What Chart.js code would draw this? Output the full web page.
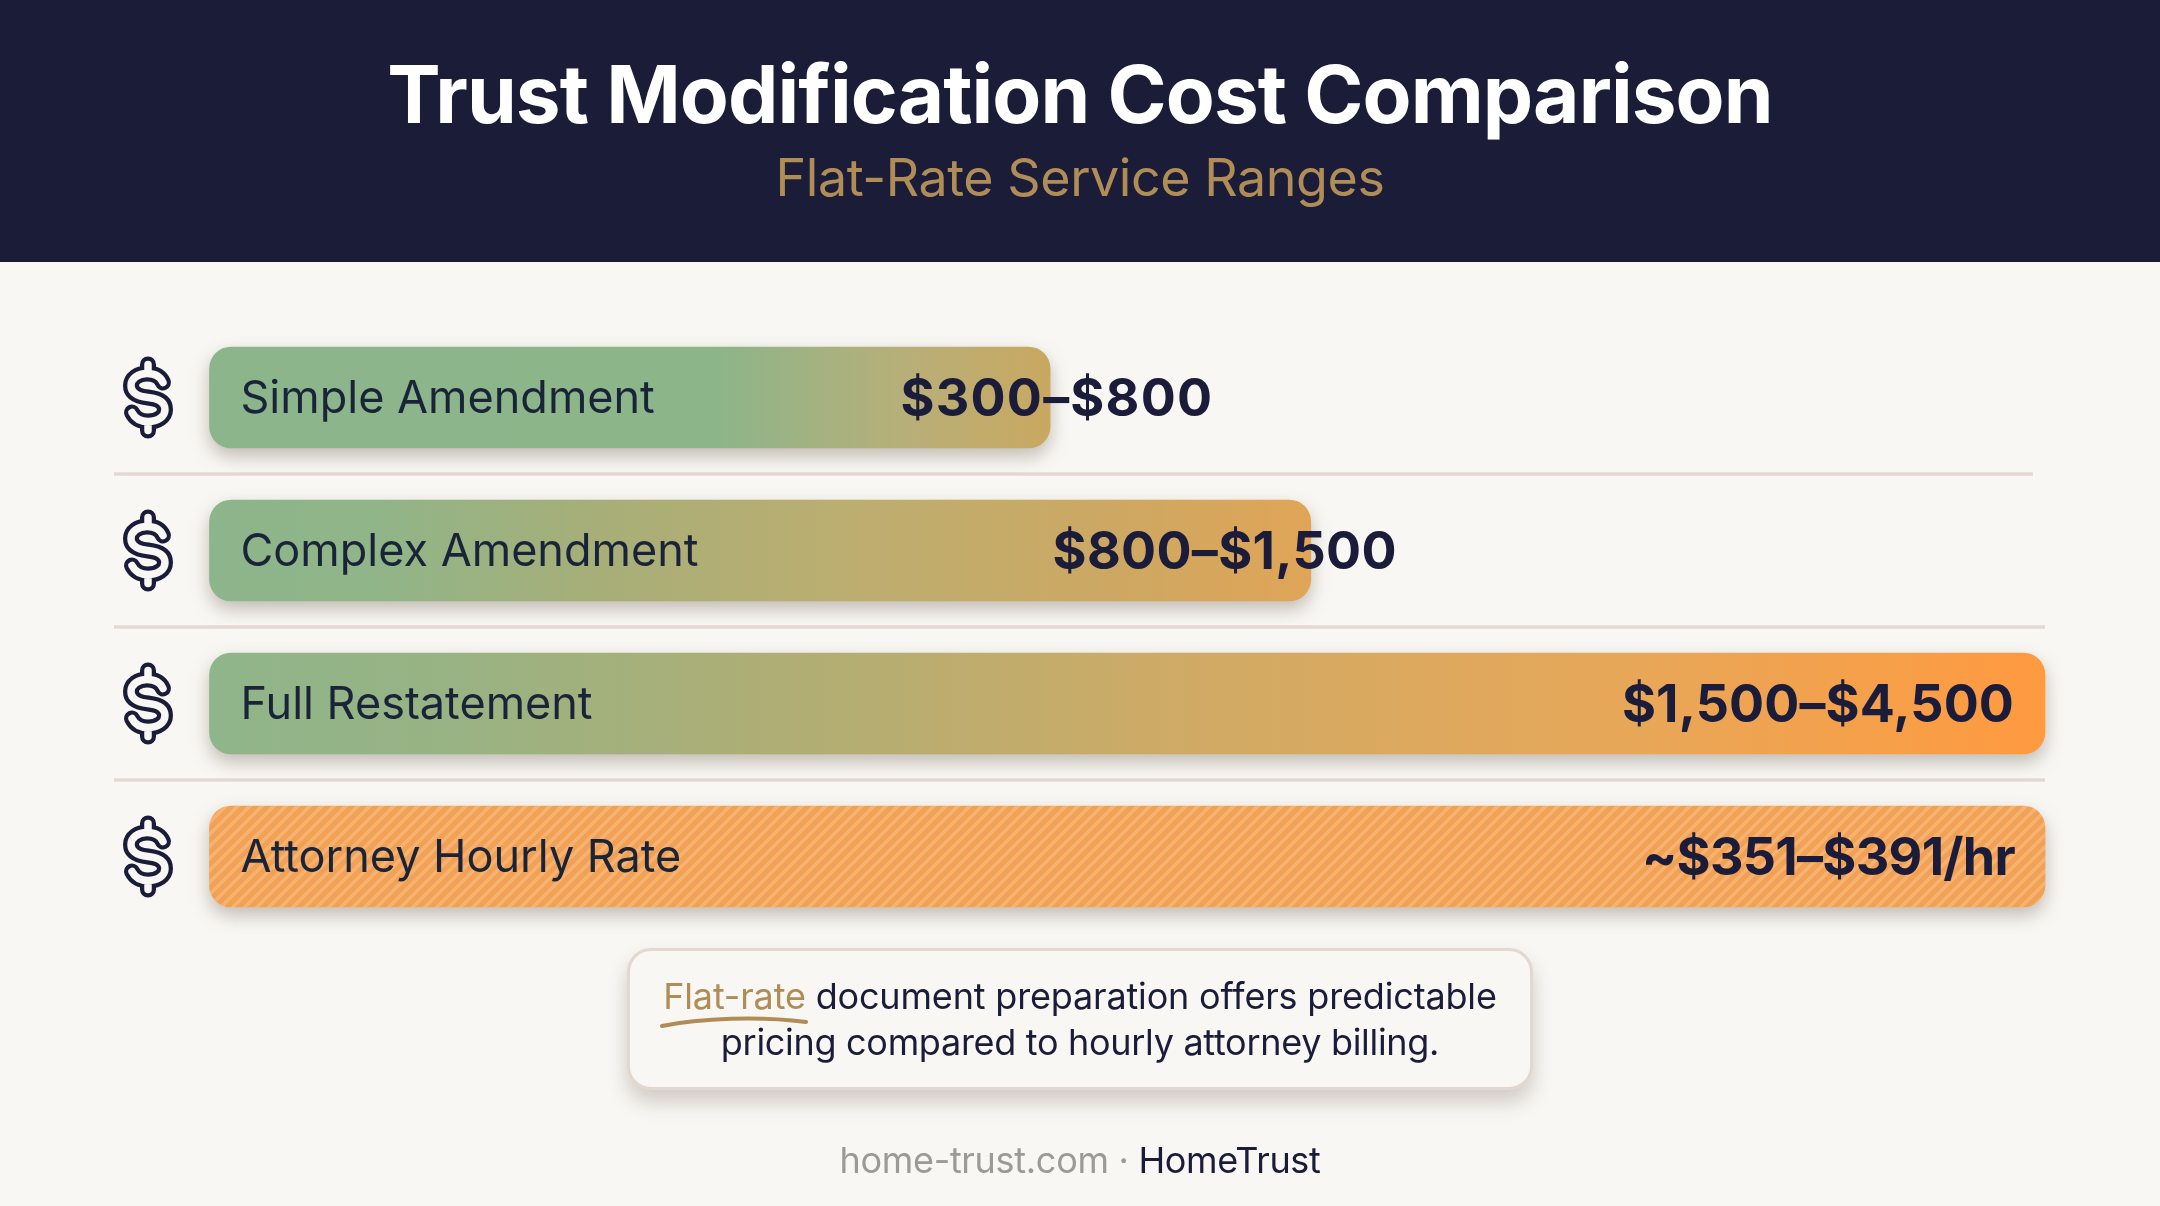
<!DOCTYPE html>
<html>
<head>
<meta charset="utf-8">
<title>Trust Modification Cost Comparison</title>
<script src="https://cdn.jsdelivr.net/npm/chart.js@4"></script>
<style>
html, body { margin: 0; padding: 0; background: #f8f7f3; }
body { position: relative; width: 2160px; height: 1206px; overflow: hidden; font-family: Inter, sans-serif; color: #1a1c3a; }
#header { position: absolute; left: 0; top: 0; width: 2160px; height: 262px; background: #1a1c38; }
#title, #subtitle, #line1, #line2, #footer { position: absolute; left: 0; width: 2160px; text-align: center; white-space: nowrap; }
#title { top: 45px; font-size: 80px; font-weight: 700; color: #fff; line-height: 97px; letter-spacing: -0.9px; }
#subtitle { top: 146px; font-size: 52px; font-weight: 400; color: #b08d57; line-height: 63px; letter-spacing: -0.45px; }
#cashCanvas { position: absolute; left: 0; top: 0; }
#callout { position: absolute; left: 627px; top: 948px; width: 900px; height: 136px; border: 3.5px solid #e2d8d0; border-radius: 24px; background: #f9f7f3; box-shadow: 0 12px 20px rgba(70, 50, 30, .22); }
#line1 { top: 973px; font-size: 36px; line-height: 46px; letter-spacing: -0.17px; }
#line2 { top: 1019px; font-size: 36px; line-height: 46px; letter-spacing: -0.3px; }
#footer { top: 1138px; font-size: 36px; line-height: 44px; color: #9a9a96; letter-spacing: -0.3px; }
#footer b { font-weight: 400; color: #1a1c3a; }
.gold { color: #b08d57; }
#swoosh { position: absolute; left: 660px; top: 1012px; }
</style>
</head>
<body>
<div id="header"></div>
<div id="title">Trust Modification Cost Comparison</div>
<div id="subtitle">Flat-Rate Service Ranges</div>
<canvas id="cashCanvas" width="2160" height="1206"></canvas>
<div id="callout"></div>
<div id="line1"><span class="gold">Flat-rate</span> document preparation offers predictable</div>
<div id="line2">pricing compared to hourly attorney billing.</div>
<svg id="swoosh" width="150" height="18"><path d="M2 14 C 40 6, 100 4, 146 10" fill="none" stroke="#b08d57" stroke-width="4" stroke-linecap="round"/></svg>
<div id="footer">home-trust.com · <b>HomeTrust</b></div>
<script>
const categories = ["Simple Amendment", "Complex Amendment", "Full Restatement", "Attorney Hourly Rate"];
const barLength = [45.8, 60, 100, 100];
const rangeLabels = ["$300–$800", "$800–$1,500", "$1,500–$4,500", "~$351–$391/hr"];

const dark = "#1a1c3a";
const bg = "#f8f7f3";
const labelShift = [163, 86, -31, -30];
const labelSpacing = ["1.2px", "0.3px", "0.1px", "-0.7px"];
const barStops = [
    [[0, "#8db58b"], [0.6, "#8cb58a"], [0.83, "#b8af78"], [1, "#c9a860"]],
    [[0, "#8db58b"], [0.15, "#90b588"], [0.36, "#a8ae78"], [0.58, "#bcae70"], [0.82, "#cda862"], [1, "#e0a557"]],
    [[0, "#8fb58a"], [0.12, "#97b384"], [0.32, "#b0ae74"], [0.55, "#d2aa64"], [0.78, "#e8a758"], [1, "#ff9a40"]]
];

const hatchTile = document.createElement("canvas");
hatchTile.width = 12;
hatchTile.height = 12;
const tc = hatchTile.getContext("2d");
tc.fillStyle = "#f1a154";
tc.fillRect(0, 0, 12, 12);
tc.strokeStyle = "#f7b272";
tc.lineWidth = 3.5;
[[-6, 6, 6, -6], [0, 12, 12, 0], [6, 18, 18, 6]].forEach(l => {
    tc.beginPath();
    tc.moveTo(l[0], l[1]);
    tc.lineTo(l[2], l[3]);
    tc.stroke();
});

const fillFor = (c)=>{
    const i = c.dataIndex;
    const chart = c.chart;
    if (i === undefined || !chart.chartArea) return "#8fb58a";
    if (i === 3) return chart.ctx.createPattern(hatchTile, "repeat");
    const x0 = chart.scales.x.getPixelForValue(0);
    const x1 = chart.scales.x.getPixelForValue(barLength[i]);
    const g = chart.ctx.createLinearGradient(x0, 0, x1, 0);
    barStops[i].forEach(s => g.addColorStop(s[0], s[1]));
    return g;
};

const drawDollar = (ctx, cx, cy)=>{
    const s = new Path2D("M15 -15 C12 -22 6 -24 -1 -24 C-10 -24 -17 -19 -17 -12 C-17 -4 -9 -1 0 0 C9 1 17 4 17 12 C17 19 10 24 0 24 C-7 24 -13 21 -16 15 M0 -33 L0 -24 M0 24 L0 33");
    ctx.save();
    ctx.translate(cx, cy);
    ctx.lineCap = "round";
    ctx.lineJoin = "round";
    ctx.strokeStyle = dark;
    ctx.lineWidth = 16;
    ctx.stroke(s);
    ctx.strokeStyle = bg;
    ctx.lineWidth = 7.5;
    ctx.stroke(s);
    ctx.restore();
};

const rowExtras = {
    id: "rowExtras",
    beforeDatasetsDraw(chart) {
        const { ctx, scales } = chart;
        const y = scales.y;
        ctx.save();
        ctx.strokeStyle = "#e3d9d2";
        ctx.lineWidth = 3.5;
        for (let i = 0; i < categories.length - 1; i++) {
            const my = (y.getPixelForValue(i) + y.getPixelForValue(i + 1)) / 2;
            ctx.beginPath();
            ctx.moveTo(114, my);
            ctx.lineTo(i === 0 ? 2033 : 2045, my);
            ctx.stroke();
        }
        ctx.restore();
        categories.forEach((c, i) => drawDollar(ctx, 148, y.getPixelForValue(i)));
        ctx.save();
        ctx.shadowColor = "rgba(70, 50, 30, .3)";
        ctx.shadowBlur = 18;
        ctx.shadowOffsetY = 8;
    },
    afterDatasetsDraw(chart) {
        const { ctx, scales } = chart;
        ctx.restore();
        ctx.save();
        ctx.font = "700 52px Inter";
        ctx.fillStyle = dark;
        ctx.textAlign = "right";
        ctx.textBaseline = "middle";
        rangeLabels.forEach((t, i) => {
            ctx.letterSpacing = labelSpacing[i];
            ctx.fillText(t, scales.x.getPixelForValue(barLength[i]) + labelShift[i], scales.y.getPixelForValue(i) + 3);
        });
        ctx.restore();
    }
};

new Chart(document.getElementById("cashCanvas"), {
    type: "bar",
    data: {
        labels: categories,
        datasets: [{
            label: "Cost range",
            data: barLength,
            backgroundColor: fillFor,
            borderRadius: 22,
            borderSkipped: false,
            barThickness: 101,
            clip: false
        }]
    },
    options: {
        indexAxis: "y",
        responsive: false,
        animation: false,
        devicePixelRatio: 1,
        layout: { padding: { left: 209.5, right: 115, top: 321, bottom: 273 } },
        plugins: { legend: { display: false }, tooltip: { enabled: false } },
        scales: {
            x: { display: false, min: 0, max: 100 },
            y: {
                afterFit: (scale)=>{ scale.width = 0; },
                border: { display: false },
                grid: { display: false },
                ticks: { mirror: true, padding: 31, labelOffset: 2, z: 1, color: "#1a2438", font: { family: "Inter", size: 45 } }
            }
        }
    },
    plugins: [rowExtras]
});
</script>
</body>
</html>
